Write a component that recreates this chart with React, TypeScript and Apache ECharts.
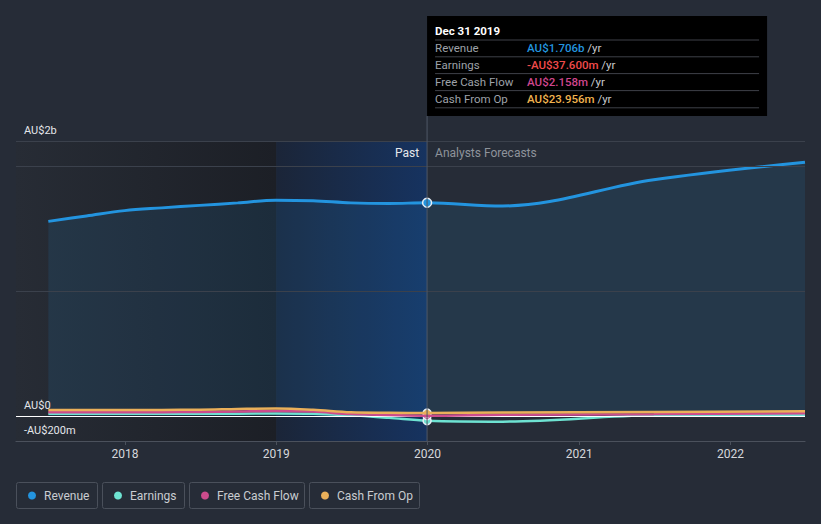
import React, { useEffect, useRef } from 'react';
import * as echarts from 'echarts';

// ---- data (values in millions AU$) ----
const dates = [
  '2017-06-30', '2017-09-30', '2017-12-31', '2018-03-31', '2018-06-30', '2018-09-30',
  '2018-12-31', '2019-03-31', '2019-06-30', '2019-09-30', '2019-12-31',
  '2020-06-30', '2021-06-30', '2022-06-30',
];
const revenue = [1557, 1600, 1643, 1665, 1685, 1705, 1727, 1722, 1705, 1700, 1706, 1680, 1890, 2030];
const earnings = [18, 18, 18, 18, 18, 19, 20, 18, 5, -15, -37.6, -45, 5, 10];
const freeCashFlow = [30, 30, 30, 31, 32, 36, 40, 35, 15, 8, 2.158, 10, 15, 22];
const cashFromOp = [48, 48, 48, 49, 50, 56, 60, 50, 30, 26, 23.956, 28, 33, 38];

const seriesNames = ['Revenue', 'Earnings', 'Free Cash Flow', 'Cash From Op'];
const seriesColors = ['#2394df', '#6ee3d2', '#cc4b8c', '#eab05a'];
const tooltipValueColors = ['#2394df', '#f04b4b', '#d0468d', '#f0b24e'];

const yTickValues = [-200, 0, 2200];
const yTickLabels = ['-AU$200m', 'AU$0', 'AU$2b'];
const gridValues = [2200, 2000, 1000];
const xTickYears = [2018, 2019, 2020, 2021, 2022];
const axisStart = '2017-04-13';
const axisEnd = '2022-06-30';
const highlightStart = '2019-01-01';
const pastEnd = '2019-12-31';

const ts = (d: string) => {
  const [y, m, dd] = d.split('-').map(Number);
  return Date.UTC(y, m - 1, dd);
};
const MONTHS = ['Jan', 'Feb', 'Mar', 'Apr', 'May', 'Jun', 'Jul', 'Aug', 'Sep', 'Oct', 'Nov', 'Dec'];
const fmtDate = (d: string) => {
  const [y, m, dd] = d.split('-').map(Number);
  return `${MONTHS[m - 1]} ${dd} ${y}`;
};
const fmtMoney = (v: number) => {
  const sign = v < 0 ? '-' : '';
  const a = Math.abs(v);
  if (a >= 1000) return `${sign}AU$${(a / 1000).toFixed(3)}b`;
  return `${sign}AU$${a.toFixed(3)}m`;
};

const FONT = 'Roboto, "Noto Sans", sans-serif';
const BG = '#262c37';

export default function App() {
  const ref = useRef<HTMLDivElement>(null);
  useEffect(() => {
    if (!ref.current) return;
    const chart = echarts.init(ref.current, undefined, { renderer: 'svg' });
    const allData = [revenue, earnings, freeCashFlow, cashFromOp];
    const pastIdx = dates.indexOf(pastEnd);
    const yearTicks = xTickYears.map((y) => Date.UTC(y, 0, 1));

    const lineSeries = allData.map((arr, k) => ({
      type: 'line',
      name: seriesNames[k],
      smooth: 0.35,
      symbol: 'none',
      z: 3 + k,
      data: dates.map((d, i) => [ts(d), arr[i]]),
      lineStyle: { color: seriesColors[k], width: k === 0 ? 3 : 2.5 },
      itemStyle: { color: seriesColors[k] },
      areaStyle: k === 0 ? { color: 'rgba(35,150,225,0.16)' } : undefined,
      markPoint: {
        silent: true,
        symbol: 'circle',
        symbolSize: k === 0 ? 9 : 8,
        label: { show: false },
        itemStyle: { color: seriesColors[k], borderColor: '#e8eef5', borderWidth: 1.5 },
        data: [{ coord: [ts(pastEnd), arr[pastIdx]] }],
      },
    }));

    const bgSeries = {
      type: 'line',
      name: 'bg',
      data: [],
      silent: true,
      z: 1,
      markArea: {
        silent: true,
        data: [
          [
            {
              xAxis: ts(axisStart),
              itemStyle: {
                color: new echarts.graphic.LinearGradient(0, 0, 1, 0, [
                  { offset: 0, color: '#272c35' },
                  { offset: 1, color: '#1c1f26' },
                ]),
              },
            },
            { xAxis: ts(highlightStart) },
          ],
          [
            {
              xAxis: ts(highlightStart),
              itemStyle: {
                color: new echarts.graphic.LinearGradient(0, 0, 1, 0, [
                  { offset: 0, color: '#1b2538' },
                  { offset: 1, color: '#163360' },
                ]),
              },
            },
            { xAxis: ts(pastEnd) },
          ],
        ],
      },
      markLine: {
        silent: true,
        symbol: ['none', 'none'],
        label: { show: false },
        lineStyle: { type: 'solid', color: '#3b414c', width: 1 },
        data: [
          ...gridValues.map((v) => ({ yAxis: v })),
          { yAxis: 0, lineStyle: { type: 'solid', color: '#ffffff', width: 1.2 } },
        ],
      },
    };

    const option: any = {
      animation: false,
      backgroundColor: BG,
      textStyle: { fontFamily: FONT },
      grid: { left: 16, right: 16, top: 141, bottom: 83 },
      xAxis: {
        type: 'value',
        min: ts(axisStart),
        max: ts(axisEnd),
        splitLine: { show: false },
        axisLine: { onZero: false, lineStyle: { color: '#4b515c', width: 1.2 } },
        axisTick: {
          show: true,
          length: 4,
          customValues: yearTicks,
          lineStyle: { color: '#4b515c' },
        },
        axisLabel: {
          customValues: yearTicks,
          formatter: (v: number) => String(new Date(v).getUTCFullYear()),
          color: '#d6d8dc',
          fontSize: 12,
          margin: 7,
          fontFamily: FONT,
        },
      },
      yAxis: {
        type: 'value',
        z: 20,
        min: -200,
        max: 2200,
        interval: 200,
        splitLine: { show: false },
        axisLine: { show: false },
        axisTick: { show: false },
        axisLabel: {
          customValues: yTickValues,
          inside: true,
          margin: 8,
          verticalAlign: 'bottom',
          padding: [0, 0, 5, 0],
          hideOverlap: false,
          color: '#e4e6ea',
          fontSize: 11,
          fontFamily: FONT,
          formatter: (v: number) => {
            const i = yTickValues.indexOf(v);
            return i >= 0 ? yTickLabels[i] : '';
          },
        },
      },
      series: [bgSeries, ...lineSeries],
    };
    chart.setOption(option);

    const [px] = chart.convertToPixel({ xAxisIndex: 0, yAxisIndex: 0 }, [ts(pastEnd), 0]) as number[];
    const [, gridTop] = chart.convertToPixel({ xAxisIndex: 0, yAxisIndex: 0 }, [ts(pastEnd), 2200]) as number[];
    const [, gridBottom] = chart.convertToPixel({ xAxisIndex: 0, yAxisIndex: 0 }, [ts(pastEnd), -200]) as number[];

    const boxX = px;
    const boxY = 16;
    const boxW = 340;
    const boxH = 100;
    const rowY0 = 48.3;
    const rowStep = 16.8;

    const tooltipRows: any[] = [];
    seriesNames.forEach((n, k) => {
      const cy = rowY0 + k * rowStep;
      tooltipRows.push({
        type: 'text',
        x: boxX + 8,
        y: cy,
        style: { text: n, fill: '#9ea2a9', fontSize: 11.5, fontFamily: FONT, verticalAlign: 'middle' },
      });
      tooltipRows.push({
        type: 'text',
        x: boxX + 100,
        y: cy,
        style: {
          text: `{v|${fmtMoney(allData[k][pastIdx])}}{u| /yr}`,
          fontFamily: FONT,
          verticalAlign: 'middle',
          rich: {
            v: { fill: tooltipValueColors[k], fontSize: 11.5, fontWeight: 500, fontFamily: FONT },
            u: { fill: '#c9cbcf', fontSize: 11.5, fontFamily: FONT },
          },
        },
      });
    });
    const sepLines = [40, 56.8, 73.6, 90.6, 107.8].map((y) => ({
      type: 'line',
      shape: { x1: boxX + 8, y1: y, x2: boxX + boxW - 8, y2: y },
      style: { stroke: '#3e4148', lineWidth: 1 },
    }));

    const legendBoxes = [
      { x: 16, w: 81 },
      { x: 102, w: 82 },
      { x: 189, w: 115 },
      { x: 309, w: 110 },
    ];
    const legendEls: any[] = [];
    legendBoxes.forEach((b, k) => {
      legendEls.push({
        type: 'rect',
        shape: { x: b.x + 0.5, y: 482.5, width: b.w, height: 26, r: 2 },
        style: { fill: 'transparent', stroke: '#4a505b', lineWidth: 1 },
      });
      legendEls.push({
        type: 'circle',
        shape: { cx: b.x + 16, cy: 495.5, r: 4 },
        style: { fill: seriesColors[k] },
      });
      legendEls.push({
        type: 'text',
        x: b.x + 28,
        y: 495.5,
        style: { text: seriesNames[k], fill: '#c9ccd1', fontSize: 12, fontFamily: FONT, verticalAlign: 'middle' },
      });
    });

    chart.setOption({
      graphic: [
        {
          type: 'line',
          id: 'vline',
          z: 50,
          shape: { x1: px, y1: boxY + boxH, x2: px, y2: gridBottom },
          style: { stroke: '#4f5866', lineWidth: 1 },
        },
        {
          type: 'text',
          id: 'pastText',
          z: 100,
          x: px - 8,
          y: gridTop + 12,
          style: {
            text: 'Past',
            fill: '#e6e8ec',
            fontSize: 12,
            fontFamily: FONT,
            align: 'right',
            textAlign: 'right',
            verticalAlign: 'middle',
          },
        },
        {
          type: 'text',
          id: 'fcText',
          z: 100,
          x: px + 8,
          y: gridTop + 12,
          style: { text: 'Analysts Forecasts', fill: '#8e939b', fontSize: 12, fontFamily: FONT, align: 'left', verticalAlign: 'middle' },
        },
        {
          type: 'rect',
          shape: { x: boxX, y: boxY, width: boxW, height: boxH },
          style: { fill: '#000000' },
        },
        {
          type: 'text',
          x: boxX + 8,
          y: 31,
          style: { text: fmtDate(pastEnd), fill: '#ffffff', fontSize: 11.5, fontWeight: 'bold', fontFamily: FONT, verticalAlign: 'middle' },
        },
        ...sepLines,
        ...tooltipRows,
        ...legendEls,
      ],
    });

    return () => chart.dispose();
  }, []);

  return (
    <div
      ref={ref}
      style={{ position: 'absolute', left: 0, top: 0, width: 821, height: 524, background: BG }}
    />
  );
}
